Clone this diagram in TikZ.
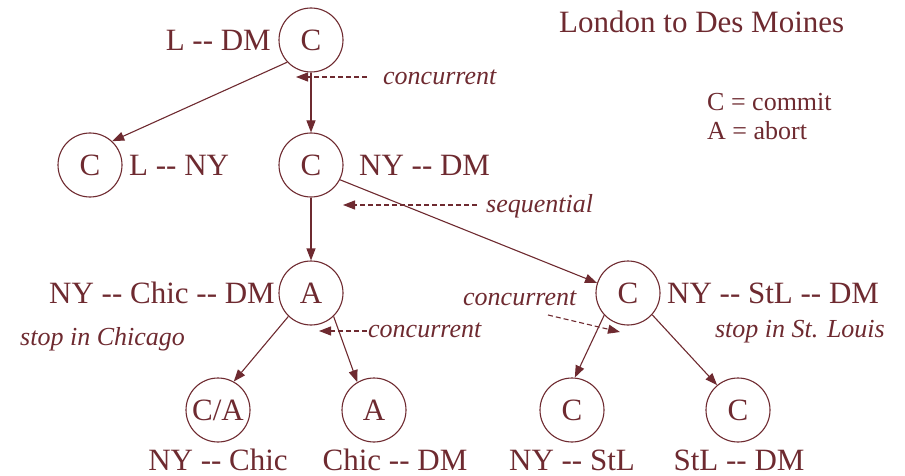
\documentclass[tikz,border=0pt]{standalone}
\usepackage{fontspec}
\setmainfont{Liberation Serif}
\usetikzlibrary{arrows.meta}
\definecolor{ink}{RGB}{110,42,48}
% two separate hyphens, kept apart from the en-dash ligature
\newcommand{\hh}{-\kern0pt-}
\begin{document}
\begin{tikzpicture}[x=1pt,y=-1pt,
  every node/.style={text=ink},
  big/.style={font=\fontsize{31}{36}\selectfont},
  note/.style={font=\fontsize{26}{30}\selectfont\itshape, inner sep=0pt},
  lbl/.style={big, inner sep=0pt},
  state/.style={circle, draw=ink, line width=1.1pt, minimum size=64pt, inner sep=0pt, big},
  edge/.style={draw=ink, line width=1.1pt, -{Triangle[length=12pt,width=9pt]}},
  hint/.style={draw=ink, line width=1.1pt, dash pattern=on 5pt off 3pt, -{Triangle[length=12pt,width=9pt]}}]
\useasboundingbox (0,0) rectangle (905,476);

% title and legend
\node[big, inner sep=0pt, anchor=west] (title) at (559,22) {London to Des Moines};
\node[big, inner sep=0pt, anchor=west, font=\fontsize{26}{30}\selectfont] (legc) at (707,102) {C = commit};
\node[big, inner sep=0pt, anchor=west, font=\fontsize{26}{30}\selectfont] (lega) at (707,131) {A = abort};

% transaction tree
\node[state] (root) at (311,40) {C};
\node[state] (lny) at (90,165) {C};
\node[state] (nydm) at (311,165) {C};
\node[state] (chic) at (311,293) {A};
\node[state] (stl) at (628,293) {C};
\node[state] (c1) at (218,410) {C/A};
\node[state] (c2) at (374,410) {A};
\node[state] (c3) at (572,410) {C};
\node[state] (c4) at (738,410) {C};

% route labels
\node[lbl, anchor=east] (lroot) at (271,40) {L \hh{} DM};
\node[lbl, anchor=west] (llny) at (129,165) {L \hh{} NY};
\node[lbl, anchor=west] (lnydm) at (359,165) {NY \hh{} DM};
\node[lbl, anchor=east] (lchic) at (275,293) {NY \hh{} Chic \hh{} DM};
\node[lbl, anchor=west] (lstl) at (667,293) {NY \hh{} StL \hh{} DM};
\node[lbl] (l1) at (218,460) {NY \hh{} Chic};
\node[lbl] (l2) at (395,460) {Chic \hh{} DM};
\node[lbl] (l3) at (572,460) {NY \hh{} StL};
\node[lbl] (l4) at (739,460) {StL \hh{} DM};

\node[note, anchor=west] (schic) at (20,339) {stop in Chicago};
\node[note, anchor=east] (sstl) at (885,332) {stop in St. Louis};

% edges of the tree
\draw[edge] (root.-137) -- (lny.47);
\draw[edge] (root) -- (nydm);
\draw[edge] (nydm) -- (chic);
\draw[edge] (nydm.-27) -- (stl.162);
\draw[edge] (chic.-134) -- (c1.61);
\draw[edge] (chic.-46) -- (c2.121);
\draw[edge] (stl.-137) -- (c3.85);
\draw[edge] (stl.-42) -- (c4.130);

% execution-mode annotations
\node[note, anchor=west] (n1) at (383,77) {concurrent};
\coordinate (t1) at (296,77);
\draw[hint] (n1.west) ++(-16,0) -- (t1);

\node[note, anchor=west] (n2) at (486,206) {sequential};
\coordinate (t2) at (343,205);
\draw[hint] (n2.west) ++(-9,-1) -- (t2);

\node[note, anchor=west] (n3) at (368,330) {concurrent};
\coordinate (t3) at (319,331);
\draw[hint] (n3.west) ++(-1,1) -- (t3);

\node[note, anchor=west] (n4) at (463,298) {concurrent};
\coordinate (s4) at (548,315);
\coordinate (t4) at (620,332);
\draw[hint] (s4) -- (t4);
\end{tikzpicture}
\end{document}
